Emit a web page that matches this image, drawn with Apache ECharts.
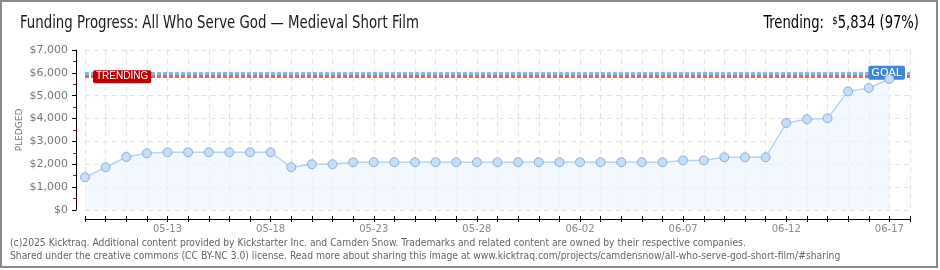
<!DOCTYPE html>
<html>
<head>
<meta charset="utf-8">
<script src="https://cdn.jsdelivr.net/npm/echarts@6/dist/echarts.min.js"></script>
<style>
html,body{margin:0;padding:0;background:#fff;}
#c{width:940px;height:270px;}
</style>
</head>
<body>
<div id="c"></div>
<script>
const categories = ['05-09','05-10','05-11','05-12','05-13','05-14','05-15','05-16','05-17','05-18',
  '05-19','05-20','05-21','05-22','05-23','05-24','05-25','05-26','05-27','05-28',
  '05-29','05-30','05-31','06-01','06-02','06-03','06-04','06-05','06-06','06-07',
  '06-08','06-09','06-10','06-11','06-12','06-13','06-14','06-15','06-16','06-17','06-18'];
const pledged = [1430,1870,2320,2480,2525,2525,2525,2525,2525,2525,
  1870,2000,2000,2090,2090,2090,2090,2090,2090,2090,
  2090,2090,2090,2090,2090,2090,2090,2090,2090,2170,
  2170,2305,2305,2305,3805,3967,4010,5190,5337,5730,null];
const goal = 6000;
const trending = 5834;
const yTicks = [0,1000,2000,3000,4000,5000,6000,7000];
const titleText = 'Funding Progress: All Who Serve God \u2014 Medieval Short Film';
const footerLines = [
  '(c)2025 Kicktraq. Additional content provided by Kickstarter Inc. and Camden Snow. Trademarks and related content are owned by their respective companies.',
  'Shared under the creative commons (CC BY-NC 3.0) license. Read more about sharing this image at www.kicktraq.com/projects/camdensnow/all-who-serve-god-short-film/#sharing'
];

const narrow = "'Liberation Sans Narrow','DejaVu Sans Condensed','Roboto',sans-serif";
const chart = echarts.init(document.getElementById('c'));
const fmt = v => '$' + v.toLocaleString('en-US');
const pct = Math.round(trending / goal * 100);

chart.setOption({
  animation: false,
  backgroundColor: '#fff',
  grid: {left: 85, right: 30, top: 50, bottom: 60},
  xAxis: [{
    type: 'category', data: categories, boundaryGap: false, position: 'bottom', offset: 9,
    axisLine: {show: true, onZero: false, lineStyle: {color: '#000', width: 1}},
    axisTick: {interval: 0, length: 3, lineStyle: {color: '#000'}},
    axisLabel: {interval: (i) => i % 5 === 4, color: '#8a8a8a', fontSize: 10, margin: 5, fontFamily: 'DejaVu Sans'},
    splitLine: {show: true, interval: 0, lineStyle: {color: '#e2e2e2', type: [5, 4]}}
  }, {
    type: 'category', data: categories, boundaryGap: false, position: 'bottom', offset: 9,
    axisLine: {show: false, onZero: false},
    axisTick: {inside: true, interval: 0, length: 3, lineStyle: {color: '#000'}},
    axisLabel: {show: false}, splitLine: {show: false}
  }],
  yAxis: {
    type: 'value', min: yTicks[0], max: yTicks[yTicks.length - 1], interval: 1000, offset: 9,
    axisLine: {show: true, onZero: false, lineStyle: {color: '#000', width: 1}},
    axisTick: {show: true, length: 4, lineStyle: {color: '#000'}},
    minorTick: {show: true, splitNumber: 2, length: 3, lineStyle: {color: '#dd0000'}},
    axisLabel: {formatter: fmt, color: '#777', fontSize: 11, margin: 8, fontFamily: 'DejaVu Sans'},
    splitLine: {lineStyle: {color: '#e2e2e2', type: [5, 4]}},
    name: 'PLEDGED', nameLocation: 'middle', nameGap: 52, nameRotate: 90, nameMoveOverlap: false,
    nameTextStyle: {color: '#777', fontSize: 9, fontFamily: 'DejaVu Sans'}
  },
  series: [{
    type: 'line', data: pledged, symbol: 'circle', symbolSize: 9, showSymbol: true,
    lineStyle: {color: '#b7d4f3', width: 1.5},
    itemStyle: {color: '#c6ddf7', borderColor: '#8fb0d8', borderWidth: 1},
    areaStyle: {color: '#eef5fd'},
    z: 3,
    markLine: {
      silent: true, symbol: 'none', z: 2,
      data: [
        {yAxis: goal, lineStyle: {color: '#8db5e4', width: 3, type: [4, 2]},
          label: {show: true, formatter: 'GOAL', position: 'insideEnd', distance: [5, 0], verticalAlign: 'middle',
            backgroundColor: '#3f87d8', color: '#fff', fontSize: 11, fontFamily: 'DejaVu Sans',
            padding: [2, 3, 1, 3], borderRadius: 2}},
        {yAxis: trending, lineStyle: {color: '#dc6a6a', width: 3, type: [4, 2]},
          label: {show: true, formatter: 'TRENDING', position: 'insideStart', distance: [8, 0], verticalAlign: 'middle',
            backgroundColor: '#bf0000', color: '#fff', fontSize: 10, fontFamily: 'Liberation Sans',
            padding: [2, 3, 1, 3], borderRadius: 2}}
      ]
    }
  }],
  graphic: [
    {type: 'rect', shape: {x: 1, y: 1, width: 936, height: 266}, style: {fill: 'none', stroke: '#8a8a8a', lineWidth: 2}, z: 100},
    {type: 'text', x: 20, y: 24, scaleX: 0.87, z: 100,
      style: {text: titleText, font: "17px " + narrow, fill: '#1a1a1a', align: 'left', verticalAlign: 'middle'}},
    {type: 'text', x: 919, y: 24, scaleX: 0.86, z: 100,
      style: {text: '{a|Trending:  }{s|$}{a|' + trending.toLocaleString('en-US') + ' (' + pct + '%)}',
        align: 'right', verticalAlign: 'middle',
        rich: {a: {fontFamily: narrow, fontSize: 17, color: '#1a1a1a'},
               s: {fontFamily: narrow, fontSize: 11, color: '#1a1a1a', verticalAlign: 'top', padding: [0, 0, 6, 0]}}}},
    {type: 'text', left: 10, top: 237, z: 100,
      style: {text: footerLines.join('\n'), fontFamily: 'DejaVu Sans Condensed, DejaVu Sans', fontSize: 10.25, lineHeight: 13, fill: '#666'}}
  ]
});
</script>
</body>
</html>
